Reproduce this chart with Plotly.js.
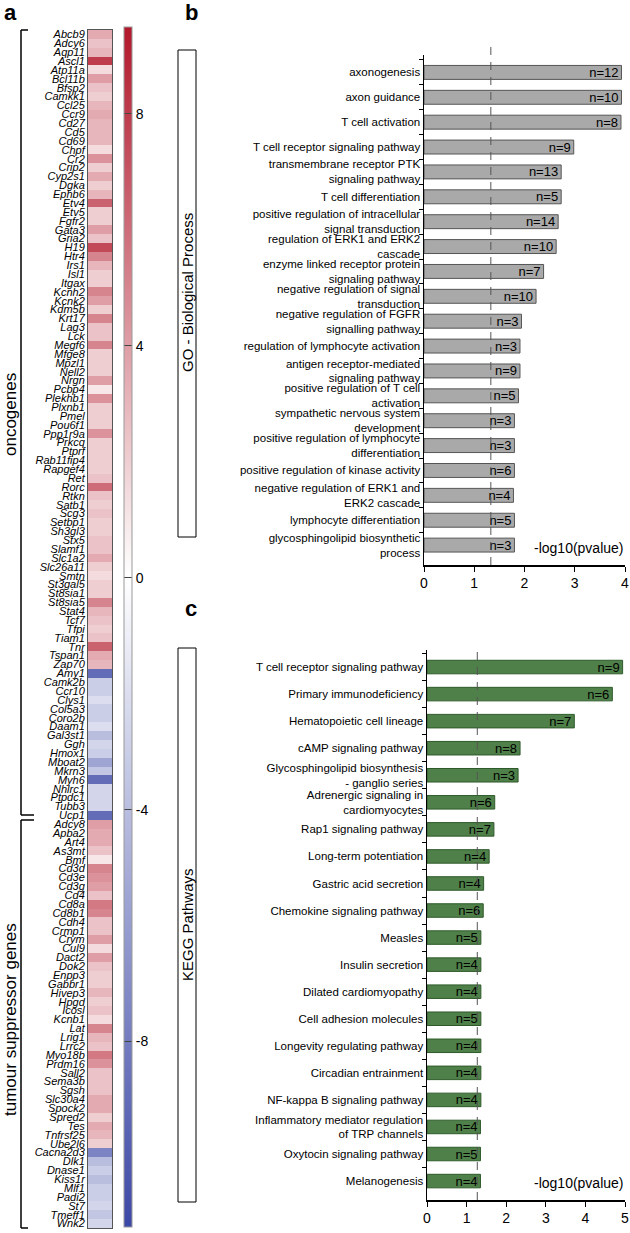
<!DOCTYPE html>
<html><head><meta charset="utf-8">
<script src="https://cdn.plot.ly/plotly-3.0.1.min.js"></script>
<style>html,body{margin:0;padding:0;background:#fff}</style>
</head><body><div id="chart" style="width:630px;height:1233px"></div>
<script>
// ---- Heatmap data ----
const oncoGenes = ["Abcb9","Adcy6","Aqp11","Ascl1","Atp11a","Bcl11b","Bfsp2","Camkk1","Ccl25","Ccr9","Cd27","Cd5","Cd69","Chpf","Cr2","Crip2","Cyp2s1","Dgka","Ephb6","Etv4","Etv5","Fgfr2","Gata3","Gria2","H19","Htr4","Irs1","Isl1","Itgax","Kcnh2","Kcnk2","Kdm5b","Krt17","Lag3","Lck","Megf6","Mfge8","Mpzl1","Nell2","Nrgn","Pcbp4","Plekhb1","Plxnb1","Pmel","Pou6f1","Ppp1r9a","Prkcq","Ptprf","Rab11fip4","Rapgef4","Ret","Rorc","Rtkn","Satb1","Scg3","Setbp1","Sh3gl3","Stx5","Slamf1","Slc1a2","Slc26a11","Smtn","St3gal5","St8sia1","St8sia5","Stat4","Tcf7","Tfpi","Tiam1","Tnr","Tspan1","Zap70","Amy1","Camk2b","Ccr10","Clys1","Col5a3","Coro2b","Daam1","Gal3st1","Ggh","Hmox1","Mboat2","Mkrn3","Myh6","Nhlrc1","Ptpdc1","Tubb3","Ucp1"];
const oncoValues = [3.5,2.5,3,8,1.5,4,2.5,2,3,3.5,3,3,3,1.5,4.5,2,3.5,2,3,6.5,2,2,4,2.5,7.5,5,3,2,2,5,4,2,5,2.5,2.5,5,2,2,2,4,1,4.5,2,2,2,4.5,2,2,2,2,2.5,6,2.5,2,2.5,2,2,2.5,2.5,3.5,2,1.5,2,2,5,3,2.5,2,2.5,6.5,3.5,3,-9,-3,-3,-2,-3,-3,-2,-4,-2.5,-3,-5.5,-3.5,-9,-2.5,-2.5,-2.5,-9];
const tsgGenes = ["Adcy8","Apba2","Art4","As3mt","Bmf","Cd3d","Cd3e","Cd3g","Cd4","Cd8a","Cd8b1","Cdh4","Crmp1","Crym","Cul9","Dact2","Dok2","Enpp3","Gabbr1","Hivep3","Hpgd","Icosl","Kcnb1","Lat","Lrig1","Lrrc2","Myo18b","Prdm16","Sall2","Sema3b","Sgsh","Slc30a4","Spock2","Spred2","Tes","Tnfrsf25","Ube2l6","Cacna2d3","Dlk1","Dnase1","Kiss1r","Mlf1","Padi2","St7","Tmeff1","Wnk2"];
const tsgValues = [4,3.5,3.5,2.5,1,5,4.5,4,2.5,5.5,5,2.5,2.5,4,1.5,4,2.5,2,2,3,2,2.5,1.5,5,3,2.5,5.5,4.5,2.5,2.5,2.5,3.5,3.5,2,3.5,3,2,-7.5,-4,-3,-4,-3,-3,-2.5,-3.5,-2.5];
const colorTicks = [8,4,0,-4,-8];

// ---- GO Biological Process ----
const goTerms = ["axonogenesis","axon guidance","T cell activation","T cell receptor signaling pathway","transmembrane receptor PTK<br>signaling pathway","T cell differentiation","positive regulation of intracellular<br>signal transduction","regulation of ERK1 and ERK2<br>cascade","enzyme linked receptor protein<br>signaling pathway","negative regulation of signal<br>transduction","negative regulation of FGFR<br>signalling pathway","regulation of lymphocyte activation","antigen receptor-mediated<br>signaling pathway","positive regulation of T cell<br>activation","sympathetic nervous system<br>development","positive regulation of lymphocyte<br>differentiation","positive regulation of kinase activity","negative regulation of ERK1 and<br>ERK2 cascade","lymphocyte differentiation","glycosphingolipid biosynthetic<br>process"];
const goValues = [3.93,3.93,3.92,2.98,2.73,2.73,2.67,2.63,2.38,2.23,1.94,1.91,1.91,1.88,1.80,1.80,1.80,1.78,1.80,1.80];
const goCounts = [12,10,8,9,13,5,14,10,7,10,3,3,9,5,3,3,6,4,5,3];

// ---- KEGG Pathways ----
const keggTerms = ["T cell receptor signaling pathway","Primary immunodeficiency","Hematopoietic cell lineage","cAMP signaling pathway","Glycosphingolipid biosynthesis<br>- ganglio series","Adrenergic signaling in<br>cardiomyocytes","Rap1 signaling pathway","Long-term potentiation","Gastric acid secretion","Chemokine signaling pathway","Measles","Insulin secretion","Dilated cardiomyopathy","Cell adhesion molecules","Longevity regulating pathway","Circadian entrainment","NF-kappa B signaling pathway","Inflammatory mediator regulation<br>of TRP channels","Oxytocin signaling pathway","Melanogenesis"];
const keggValues = [4.94,4.68,3.72,2.35,2.30,1.71,1.69,1.57,1.43,1.42,1.36,1.36,1.36,1.36,1.36,1.36,1.36,1.35,1.35,1.35];
const keggCounts = [9,6,7,8,3,6,7,4,4,6,5,4,4,5,4,4,4,4,5,4];
const goThreshold = 1.33, keggThreshold = 1.27;

const W = 630, H = 1233;
const px = x => x / W, py = y => 1 - y / H;
const FONT = "Liberation Sans, Arial, sans-serif";

const genes = oncoGenes.concat(tsgGenes);
const vals = oncoValues.concat(tsgValues);
const zmin = -11.2, zmax = 9.5, z0 = -zmin / (zmax - zmin);

const heat = {
  type: "heatmap", xaxis: "x3", yaxis: "y3",
  x: ["v"], y: genes, z: vals.map(v => [v]),
  zmin: zmin, zmax: zmax,
  colorscale: [[0, "#3c48a6"], [z0, "#ffffff"], [1, "#b2182b"]],
  colorbar: {
    x: px(124), xanchor: "left", y: py(627), yanchor: "middle",
    len: 1200, lenmode: "pixels", thickness: 8, thicknessmode: "pixels",
    outlinewidth: 1, outlinecolor: "#999", xpad: 0, ypad: 0,
    tickvals: colorTicks, ticktext: colorTicks.map(String),
    ticks: "inside", ticklen: 8, tickcolor: "#444", tickwidth: 1,
    tickfont: {family: FONT, size: 14, color: "#000"}
  },
  hoverinfo: "skip"
};

const goBar = {
  type: "bar", orientation: "h", xaxis: "x", yaxis: "y",
  x: goValues, y: goTerms, text: goCounts, texttemplate: "n=%{text}",
  textposition: "inside", insidetextanchor: "end", constraintext: "none",
  textfont: {family: FONT, size: 13, color: "#000"},
  marker: {color: "#a9a9a9", line: {color: "#555", width: 1}},
  width: 0.56, hoverinfo: "skip", cliponaxis: false
};
const keggBar = {
  type: "bar", orientation: "h", xaxis: "x2", yaxis: "y2",
  x: keggValues, y: keggTerms, text: keggCounts, texttemplate: "n=%{text}",
  textposition: "inside", insidetextanchor: "end", constraintext: "none",
  textfont: {family: FONT, size: 13, color: "#000"},
  marker: {color: "#4f8049", line: {color: "#2e5a2a", width: 1}},
  width: 0.5, hoverinfo: "skip", cliponaxis: false
};

const yCat = (extra) => Object.assign({
  type: "category", showline: true, linecolor: "#000", linewidth: 1.5,
  ticks: "outside", ticklen: 4, tickcolor: "#000", tickson: "boundaries",
  showgrid: false, zeroline: false, automargin: false,
  tickfont: {family: FONT, size: 11.5, color: "#000"}
}, extra);
const xLin = (extra) => Object.assign({
  showline: true, linecolor: "#000", linewidth: 1.5, ticks: "outside",
  ticklen: 5, tickcolor: "#000", showgrid: false, zeroline: false, automargin: false,
  ticklabeloverflow: "allow",
  tickfont: {family: FONT, size: 14, color: "#000"}
}, extra);

const layout = {
  width: W, height: H, margin: {l: 0, r: 0, t: 0, b: 0},
  paper_bgcolor: "#fff", plot_bgcolor: "rgba(0,0,0,0)", showlegend: false,
  font: {family: FONT, color: "#000"},
  xaxis: xLin({domain: [px(424), px(625)], range: [0, 4], tickvals: [0,1,2,3,4], anchor: "y"}),
  yaxis: yCat({domain: [py(565), py(55)], range: [19.8, -0.7], anchor: "x"}),
  xaxis2: xLin({domain: [px(427), px(625)], range: [0, 5], tickvals: [0,1,2,3,4,5], anchor: "y2"}),
  yaxis2: yCat({domain: [py(1200), py(650)], range: [19.7, -0.63], anchor: "x2"}),
  xaxis3: {domain: [px(88), px(112)], anchor: "y3", showticklabels: false, ticks: "",
    showline: true, mirror: true, linecolor: "#555", linewidth: 1, showgrid: false, zeroline: false},
  yaxis3: {domain: [py(1228), py(30)], anchor: "x3", type: "category", autorange: "reversed",
    tickmode: "array", tickvals: genes, ticktext: genes, ticks: "", ticklen: 0,
    showline: true, mirror: true, linecolor: "#555", linewidth: 1, showgrid: false, zeroline: false,
    automargin: false, tickfont: {family: FONT, size: 11, color: "#000", style: "italic"}},
  shapes: [
    {type: "line", xref: "x", yref: "paper", x0: goThreshold, x1: goThreshold, y0: py(565), y1: py(40),
      line: {color: "#555", width: 1, dash: "8px,7px"}},
    {type: "line", xref: "x2", yref: "paper", x0: keggThreshold, x1: keggThreshold, y0: py(1200), y1: py(650),
      line: {color: "#555", width: 1, dash: "8px,7px"}},
    {type: "rect", xref: "paper", yref: "paper", x0: px(178), x1: px(196), y0: py(537), y1: py(50),
      line: {color: "#000", width: 1}},
    {type: "rect", xref: "paper", yref: "paper", x0: px(178), x1: px(196), y0: py(1202), y1: py(648),
      line: {color: "#000", width: 1}},
    // brackets
    {type: "line", xref: "paper", yref: "paper", x0: px(21), x1: px(21), y0: py(30), y1: py(815), line: {color: "#000", width: 1.5}},
    {type: "line", xref: "paper", yref: "paper", x0: px(21), x1: px(28), y0: py(30), y1: py(30), line: {color: "#000", width: 1.5}},
    {type: "line", xref: "paper", yref: "paper", x0: px(21), x1: px(34), y0: py(815), y1: py(815), line: {color: "#000", width: 1.5}},
    {type: "line", xref: "paper", yref: "paper", x0: px(21), x1: px(21), y0: py(820), y1: py(1228), line: {color: "#000", width: 1.5}},
    {type: "line", xref: "paper", yref: "paper", x0: px(21), x1: px(34), y0: py(820), y1: py(820), line: {color: "#000", width: 1.5}},
    {type: "line", xref: "paper", yref: "paper", x0: px(21), x1: px(28), y0: py(1228), y1: py(1228), line: {color: "#000", width: 1.5}}
  ],
  annotations: [
    {text: "<b>a</b>", xref: "paper", yref: "paper", x: px(2), y: py(-2), xanchor: "left", yanchor: "top", showarrow: false, font: {size: 22}},
    {text: "<b>b</b>", xref: "paper", yref: "paper", x: px(183), y: py(-2), xanchor: "left", yanchor: "top", showarrow: false, font: {size: 22}},
    {text: "<b>c</b>", xref: "paper", yref: "paper", x: px(183), y: py(594), xanchor: "left", yanchor: "top", showarrow: false, font: {size: 22}},
    {text: "GO - Biological Process", xref: "paper", yref: "paper", x: px(187), y: py(293), xanchor: "center", yanchor: "middle", textangle: -90, showarrow: false, font: {size: 15}},
    {text: "KEGG Pathways", xref: "paper", yref: "paper", x: px(187), y: py(925), xanchor: "center", yanchor: "middle", textangle: -90, showarrow: false, font: {size: 15}},
    {text: "oncogenes", xref: "paper", yref: "paper", x: px(10), y: py(415), xanchor: "center", yanchor: "middle", textangle: -90, showarrow: false, font: {size: 17}},
    {text: "tumour suppressor genes", xref: "paper", yref: "paper", x: px(10), y: py(1020), xanchor: "center", yanchor: "middle", textangle: -90, showarrow: false, font: {size: 17}},
    {text: "-log10(pvalue)", xref: "paper", yref: "paper", x: px(626), y: py(548), xanchor: "right", yanchor: "middle", showarrow: false, font: {size: 14}},
    {text: "-log10(pvalue)", xref: "paper", yref: "paper", x: px(626), y: py(1183), xanchor: "right", yanchor: "middle", showarrow: false, font: {size: 14}}
  ]
};

Plotly.newPlot("chart", [heat, goBar, keggBar], layout, {staticPlot: true, displayModeBar: false});
</script></body></html>
